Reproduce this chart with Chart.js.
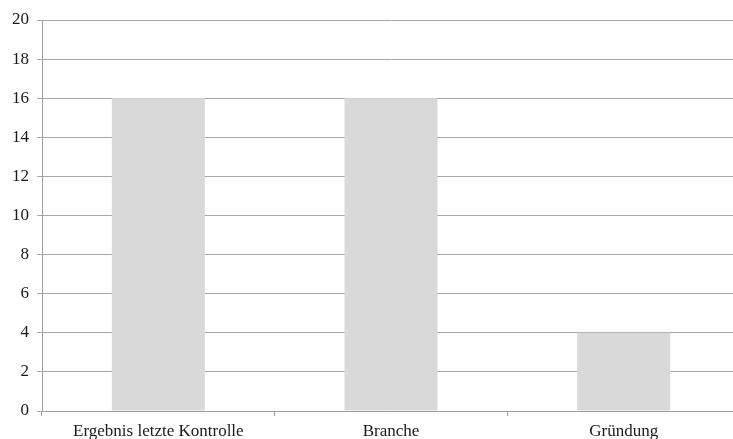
<!DOCTYPE html>
<html>
<head>
<meta charset="utf-8">
<script src="https://cdn.jsdelivr.net/npm/chart.js@4"></script>
<style>
  html, body { margin: 0; padding: 0; background: #fff; overflow: hidden; }
  #wrap { width: 752px; height: 439px; position: relative; }
</style>
</head>
<body>
<div id="wrap"><canvas id="c" width="752" height="439"></canvas></div>
<script>
// Kategorien und Werte
const categories = ['Ergebnis letzte Kontrolle', 'Branche', 'Gründung'];
const values = [16, 16, 4];
const yTicks = [0, 2, 4, 6, 8, 10, 12, 14, 16, 18, 20];

const serif = '"Liberation Serif", "Times New Roman", serif';

new Chart(document.getElementById('c'), {
  type: 'bar',
  data: {
    labels: categories,
    datasets: [{
      data: values,
      backgroundColor: '#d9d9d9',
      borderWidth: 0,
      categoryPercentage: 0.4,
      barPercentage: 1.0
    }]
  },
  options: {
    responsive: false,
    animation: false,
    events: [],
    layout: { padding: { top: 20, right: 12, bottom: 0, left: 0 } },
    plugins: { legend: { display: false }, tooltip: { enabled: false } },
    scales: {
      x: {
        offset: true,
        grid: {
          offset: true,
          drawOnChartArea: false,
          drawTicks: true,
          tickLength: 5,
          color: '#a0a0a0'
        },
        border: { color: '#a0a0a0' },
        ticks: {
          color: '#1a1a1a',
          font: { family: serif, size: 17 },
          padding: 5,
          maxRotation: 0,
          autoSkip: false
        },
        afterFit(scale) { scale.height = 28; }
      },
      y: {
        min: 0,
        max: 20,
        afterBuildTicks(scale) { scale.ticks = yTicks.map(v => ({ value: v })); },
        grid: {
          color: '#a8a8a8',
          tickLength: 5,
          drawTicks: true
        },
        border: { color: '#a0a0a0' },
        ticks: {
          color: '#1a1a1a',
          font: { family: serif, size: 17 },
          padding: 8
        },
        afterFit(scale) { scale.width = 42; }
      }
    }
  }
});
</script>
</body>
</html>
